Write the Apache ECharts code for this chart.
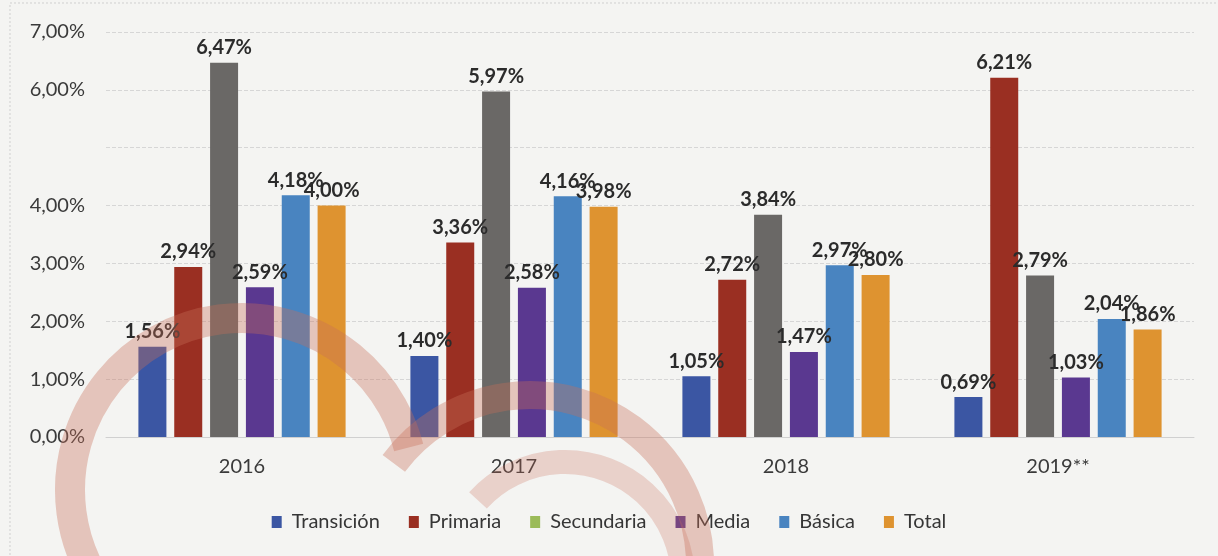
<!DOCTYPE html>
<html><head><meta charset="utf-8">
<script src="https://cdn.jsdelivr.net/npm/echarts@6/dist/echarts.min.js"></script>
<style>html,body{margin:0;padding:0;background:#f4f4f2}#c{width:1218px;height:556px}</style>
</head><body><div id="c"></div>
<script>
const categories = ['2016', '2017', '2018', '2019**'];
const transicion = [1.56, 1.40, 1.05, 0.69];
const primaria = [2.94, 3.36, 2.72, 6.21];
const secundaria = [6.47, 5.97, 3.84, 2.79];
const media = [2.59, 2.58, 1.47, 1.03];
const basica = [4.18, 4.16, 2.97, 2.04];
const total = [4.00, 3.98, 2.80, 1.86];
const seriesNames = ['Transición', 'Primaria', 'Secundaria', 'Media', 'Básica', 'Total'];
const seriesData = [transicion, primaria, secundaria, media, basica, total];
const barColors = ['#3b56a3', '#9a2f22', '#6a6866', '#5a3890', '#4984c0', '#de9330'];
const legendColors = ['#3b56a3', '#9a2f22', '#9bbb59', '#5a3890', '#4984c0', '#de9330'];

const fmt = v => v.toFixed(2).replace('.', ',') + '%';
const chart = echarts.init(document.getElementById('c'));
const font = 'Lato, "Open Sans", sans-serif';
const arcColor = 'rgba(200,110,90,0.36)';
chart.setOption({
  backgroundColor: '#f4f4f2',
  animation: false,
  textStyle: { fontFamily: font },
  grid: { left: 106, right: 24, top: 32, bottom: 119 },
  legend: {
    top: 507, left: 'center', itemWidth: 10, itemHeight: 12, itemGap: 29,
    icon: 'rect',
    textStyle: { fontSize: 20, color: '#363636', fontFamily: font, padding: [0, 0, 0, 5] },
    data: seriesNames.map((n, i) => ({ name: n, itemStyle: { color: legendColors[i] } }))
  },
  xAxis: {
    type: 'category', data: categories,
    axisLine: { show: true, lineStyle: { color: '#d0d0d0' } },
    axisTick: { show: false },
    axisLabel: { fontSize: 20, color: '#3a3a3a', margin: 20, fontFamily: font }
  },
  yAxis: {
    type: 'value', min: 0, max: 7, interval: 1,
    axisLine: { show: false }, axisTick: { show: false },
    splitLine: { lineStyle: { color: '#d6d6d6', type: 'dashed', width: 1 } },
    axisLabel: {
      fontSize: 20, color: '#3a3a3a', margin: 21, fontFamily: font,
      formatter: v => v === 5 ? '' : v.toFixed(2).replace('.', ',') + '%'
    }
  },
  graphic: [
    { type: 'rect', silent: true, z: 0, shape: { x: 10, y: 3, width: 1230, height: 600 },
      style: { stroke: '#cfcfcf', lineWidth: 1, lineDash: [2, 2], fill: null } },
    { type: 'arc', silent: true, z: 100, shape: { cx: 242, cy: 490, r: 172, startAngle: -3.65, endAngle: -0.25, clockwise: true },
      style: { stroke: arcColor, lineWidth: 30, fill: null } },
    { type: 'arc', silent: true, z: 100, shape: { cx: 530, cy: 565, r: 170, startAngle: -2.5, endAngle: 0.1, clockwise: true },
      style: { stroke: arcColor, lineWidth: 28, fill: null } },
    { type: 'arc', silent: true, z: 100, shape: { cx: 565, cy: 580, r: 118, startAngle: -2.4, endAngle: 0.05, clockwise: true },
      style: { stroke: 'rgba(200,110,90,0.26)', lineWidth: 24, fill: null } }
  ],
  series: seriesNames.map((n, i) => ({
    name: n, type: 'bar', data: seriesData[i],
    barWidth: 28, barGap: '28%',
    itemStyle: { color: barColors[i] },
    label: {
      show: true, position: 'top', distance: 5,
      fontSize: 20, fontWeight: 'bold', color: '#2b2b2b', fontFamily: font,
      formatter: p => fmt(p.value)
    }
  }))
});
</script></body></html>
